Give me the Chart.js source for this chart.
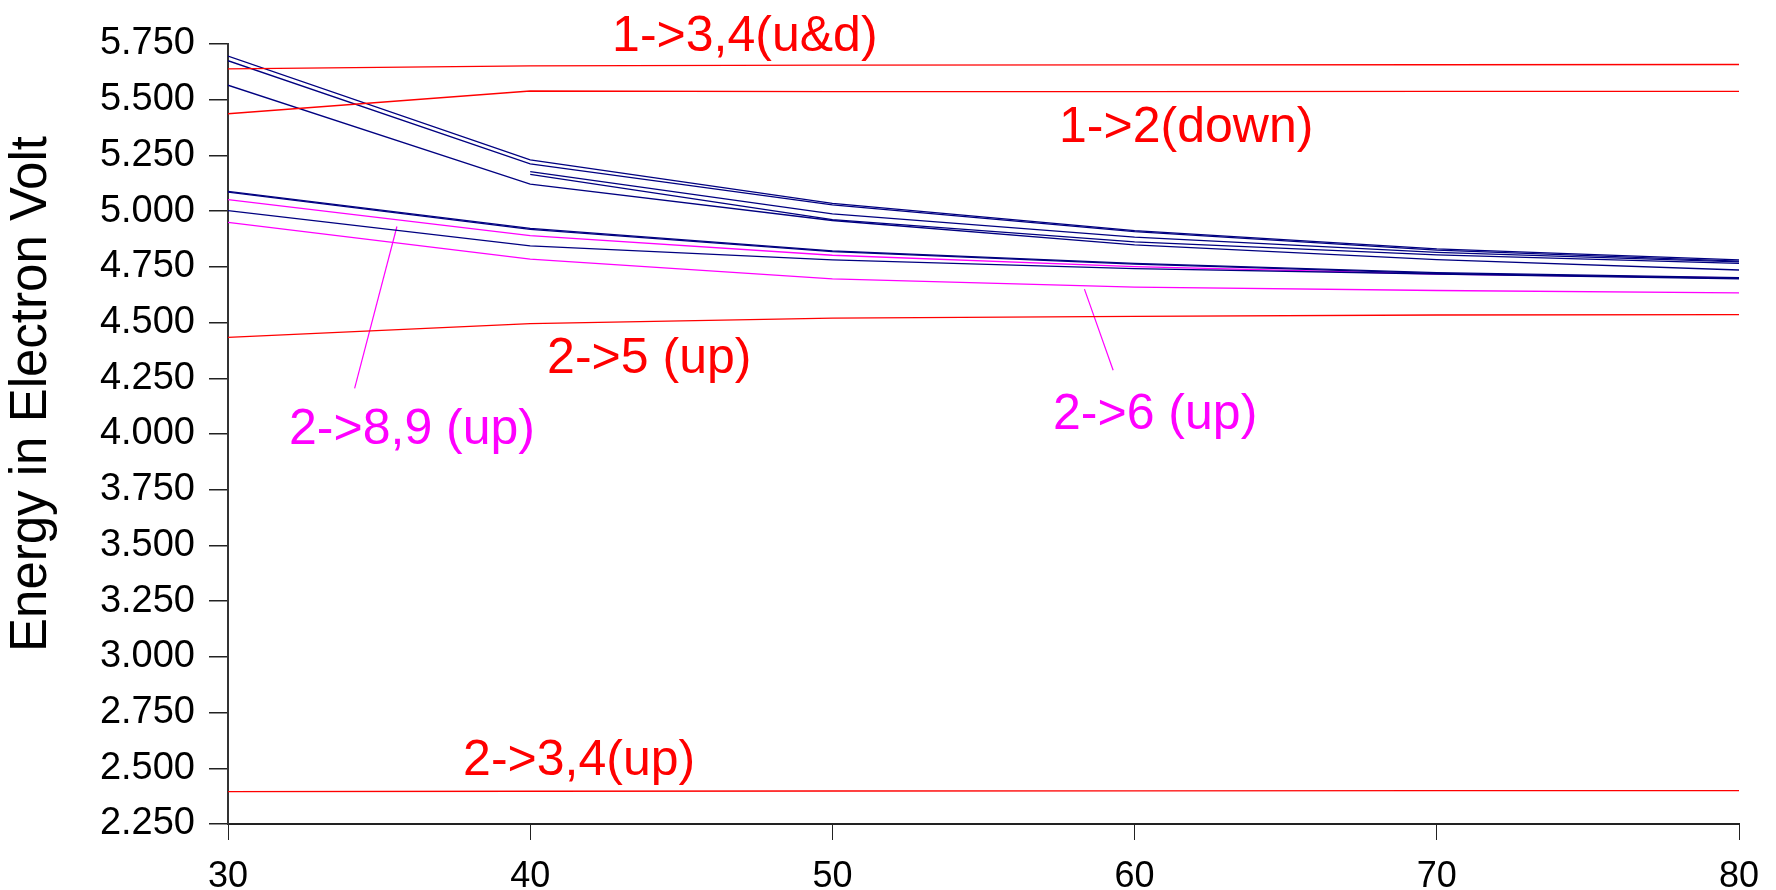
<!DOCTYPE html>
<html>
<head>
<meta charset="utf-8">
<script src="https://cdn.jsdelivr.net/npm/chart.js@4.4.1/dist/chart.umd.min.js"></script>
<style>
html,body{margin:0;padding:0;background:#fff;}
canvas{display:block;}
</style>
</head>
<body>
<canvas id="c" width="1776" height="890"></canvas>
<script>
// ---- data ----
const xValues = [30, 40, 50, 60, 70, 80];
const yTickMin = 2.25, yTickMax = 5.75, yTickStep = 0.25;
const xTickMin = 30, xTickMax = 80, xTickStep = 10;
const axisTitle = 'Energy in Electron Volt';

const blueA  = [5.696, 5.230, 5.035, 4.913, 4.831, 4.781];
const blueB  = [5.675, 5.212, 5.028, 4.908, 4.825, 4.776];
const blueC  = [5.565, 5.121, 4.958, 4.849, 4.782, 4.736];
const blueD  = [null,  5.177, 4.988, 4.883, 4.815, 4.772];
const blueE  = [null,  5.165, 4.962, 4.862, 4.804, 4.766];
const blueF1 = [5.089, 4.923, 4.822, 4.766, 4.724, 4.702];
const blueF2 = [5.085, 4.918, 4.818, 4.762, 4.721, 4.698];
const blueG  = [5.002, 4.844, 4.781, 4.742, 4.718, 4.696];

const red13  = [5.638, 5.652, 5.655, 5.656, 5.657, 5.658];
const red12  = [5.437, 5.539, 5.536, 5.536, 5.537, 5.537];
const red25  = [4.434, 4.495, 4.520, 4.528, 4.534, 4.536];
const red234 = [2.395, 2.397, 2.398, 2.399, 2.400, 2.400];

const mag89  = [5.052, 4.890, 4.802, 4.751, 4.718, 4.700];
const mag6   = [4.950, 4.785, 4.696, 4.659, 4.644, 4.633];

// annotation labels (anchored in data units)
const labelTexts = ['1->3,4(u&d)', '1->2(down)', '2->5 (up)', '2->8,9 (up)', '2->6 (up)', '2->3,4(up)'];
const labelX     = [42.71, 57.50, 40.56, 32.02, 57.30, 37.78];
const labelY     = [5.719, 5.312, 4.274, 3.956, 4.023, 2.471];
const labelKind  = ['red', 'red', 'red', 'magenta', 'magenta', 'red'];

// leader lines (data units)
const leader89X = [35.59, 34.19];
const leader89Y = [4.931, 4.205];
const leader6X  = [58.34, 59.29];
const leader6Y  = [4.650, 4.286];

// ---- build ----
const NAVY = '#000080', RED = '#ff0000', MAG = '#ff00ff';
const FONT = "'Liberation Sans', Arial, Helvetica, sans-serif";
const toPts = (xs, ys) => xs.map((x, i) => ({x: x, y: ys[i]}));

function series(ys, color) {
  return {data: toPts(xValues, ys), borderColor: color, borderWidth: 1.3,
          pointRadius: 0, tension: 0, fill: false, spanGaps: false};
}
const datasets = [
  series(red13, RED), series(red12, RED), series(red25, RED), series(red234, RED),
  series(blueA, NAVY), series(blueB, NAVY), series(blueC, NAVY), series(blueD, NAVY),
  series(blueE, NAVY), series(blueF1, NAVY), series(blueF2, NAVY), series(blueG, NAVY),
  series(mag89, MAG), series(mag6, MAG),
  {data: toPts(leader89X, leader89Y), borderColor: MAG, borderWidth: 1.2, pointRadius: 0},
  {data: toPts(leader6X, leader6Y), borderColor: MAG, borderWidth: 1.2, pointRadius: 0}
];

const labelPlugin = {
  id: 'labels',
  afterDatasetsDraw(chart) {
    const ctx = chart.ctx, xs = chart.scales.x, ys = chart.scales.y;
    ctx.save();
    ctx.font = '50px ' + FONT;
    ctx.textAlign = 'left';
    ctx.textBaseline = 'alphabetic';
    labelTexts.forEach((t, i) => {
      ctx.fillStyle = labelKind[i] === 'red' ? RED : MAG;
      ctx.fillText(t, xs.getPixelForValue(labelX[i]), ys.getPixelForValue(labelY[i]));
    });
    ctx.restore();
    // rotated axis title
    ctx.save();
    ctx.font = '51px ' + FONT;
    ctx.fillStyle = '#000';
    ctx.textAlign = 'center';
    ctx.textBaseline = 'middle';
    ctx.translate(32, 394);
    ctx.rotate(-Math.PI / 2);
    ctx.fillText(axisTitle, 0, 0);
    ctx.restore();
  }
};

new Chart(document.getElementById('c'), {
  type: 'line',
  data: {datasets: datasets},
  options: {
    responsive: false,
    animation: false,
    devicePixelRatio: 1,
    layout: {padding: {top: 44, right: 37, left: 0, bottom: 0}},
    plugins: {legend: {display: false}, tooltip: {enabled: false}},
    scales: {
      x: {
        type: 'linear', min: xTickMin, max: xTickMax,
        ticks: {stepSize: xTickStep, color: '#000', font: {family: FONT, size: 36}, padding: 15, maxRotation: 0},
        grid: {drawOnChartArea: false, drawTicks: true, tickLength: 16, color: '#222', lineWidth: 1},
        border: {display: true, color: '#222', width: 2},
        afterFit(s) { s.height = 66; }
      },
      y: {
        type: 'linear', min: yTickMin, max: yTickMax,
        ticks: {stepSize: yTickStep, color: '#000', font: {family: FONT, size: 38}, padding: 14,
                callback: v => Number(v).toFixed(3)},
        grid: {drawOnChartArea: false, drawTicks: true, tickLength: 19, color: '#222', lineWidth: 1.5},
        border: {display: true, color: '#333', width: 2},
        afterFit(s) { s.width = 228; }
      }
    }
  },
  plugins: [labelPlugin]
});
</script>
</body>
</html>
